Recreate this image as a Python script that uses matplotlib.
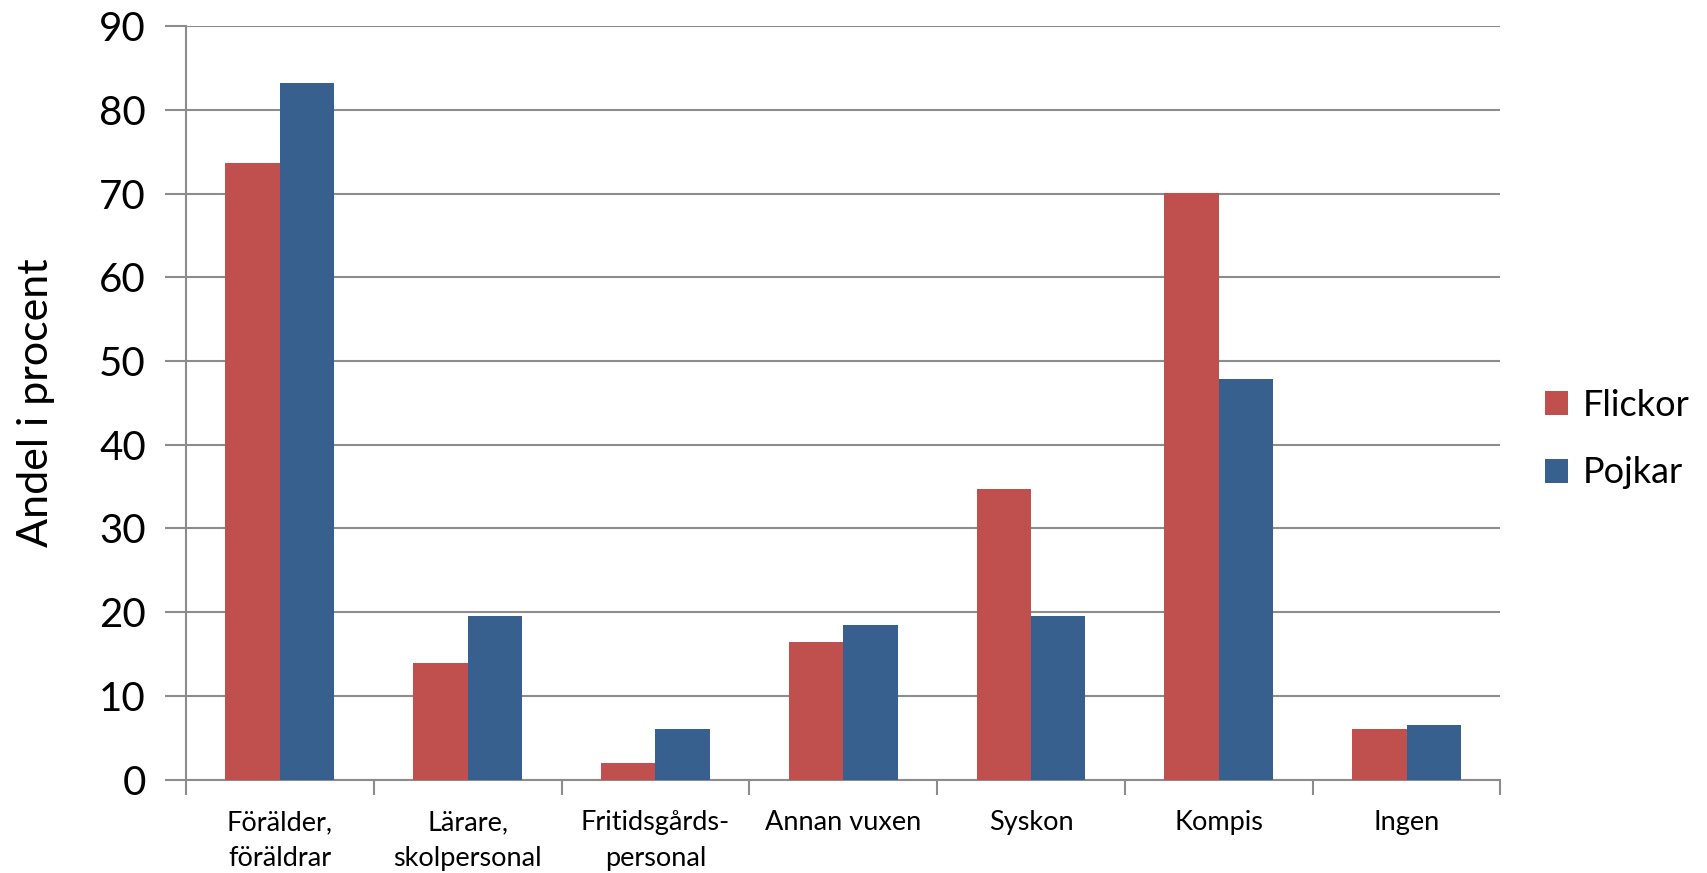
import matplotlib
matplotlib.use("Agg")
import matplotlib.pyplot as plt
import numpy as np

categories = ["Förälder,\nföräldrar", "Lärare,\nskolpersonal", "Fritidsgårds-\npersonal",
              "Annan vuxen", "Syskon", "Kompis", "Ingen"]
flickor = [73.6, 13.9, 2.0, 16.4, 34.7, 70.1, 6.0]
pojkar = [83.2, 19.5, 6.0, 18.5, 19.5, 47.9, 6.5]
yticks = [0, 10, 20, 30, 40, 50, 60, 70, 80, 90]

plt.rcParams["font.family"] = ["Lato", "DejaVu Sans"]
plt.rcParams["text.color"] = "black"

grid_col = "#8c8c8c"
fig = plt.figure(figsize=(17.07, 8.73), dpi=100)
ax = fig.add_axes([0.109, 0.107, 0.77, 0.863])

x = np.arange(len(categories))
w = 0.29
ax.bar(x - w / 2, flickor, w, color="#C0504D", label="Flickor", zorder=3)
ax.bar(x + w / 2, pojkar, w, color="#37608F", label="Pojkar", zorder=3)

ax.set_xlim(-0.5, len(categories) - 0.5)
ax.set_ylim(0, 90)
ax.set_yticks(yticks)
ax.set_yticklabels([str(v) for v in yticks], fontsize=29)
ax.set_xticks(x)
ax.set_xticklabels(categories, fontsize=19.5, linespacing=1.55)
ax.set_xticks(np.arange(-0.5, len(categories)), minor=True)
ax.tick_params(axis="x", which="major", length=0, pad=22, labelcolor="black")
ax.tick_params(axis="x", which="minor", length=11, width=1.5, color=grid_col)
ax.tick_params(axis="y", length=15, width=1.5, color=grid_col, pad=14, labelcolor="black")
ax.yaxis.grid(True, color=grid_col, linewidth=1.5, zorder=0)
ax.set_axisbelow(True)
for s in ["top", "right"]:
    ax.spines[s].set_visible(False)
for s in ["left", "bottom"]:
    ax.spines[s].set_color(grid_col)
    ax.spines[s].set_linewidth(1.5)
ax.set_ylabel("Andel i procent", fontsize=31, labelpad=32)

fig.legend(loc="center left", bbox_to_anchor=(0.905, 0.497), frameon=False,
           fontsize=26, handlelength=0.65, handleheight=0.65, labelspacing=0.95,
           handletextpad=0.4, borderpad=0, borderaxespad=0)

fig.savefig("out.png", dpi=100)
